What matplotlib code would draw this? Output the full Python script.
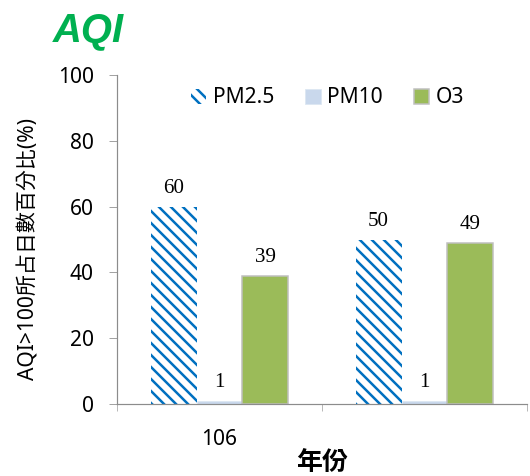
import numpy as np
import matplotlib.pyplot as plt

plt.rcParams['font.family'] = ['Noto Sans', 'Noto Sans CJK TC']
plt.rcParams['hatch.linewidth'] = 2.5

years = ['106', '']
series = ['PM2.5', 'PM10', 'O3']
pm25 = [60, 50]
pm10 = [1, 1]
o3 = [39, 49]

# 72 dpi so that font sizes are in pixels
fig = plt.figure(figsize=(530 / 72, 476 / 72), dpi=72)
ax = fig.add_axes([117 / 530, 1 - 404 / 476, 410 / 530, 329 / 476])

x = np.arange(len(years))
w = 0.224
b1 = ax.bar(x - w, pm25, w, color='white', edgecolor='#0070C0', linewidth=0,
            hatch='\\\\', label=series[0])
b2 = ax.bar(x, pm10, w, color='#C9D8EC', edgecolor='#DCE6F2', linewidth=0.8,
            label=series[1])
b3 = ax.bar(x + w, o3, w, color='#9BBB59', edgecolor='#BFBFBF', linewidth=1.5,
            label=series[2])

for bars, vals in [(b1, pm25), (b2, pm10), (b3, o3)]:
    for r, v in zip(bars, vals):
        ax.text(r.get_x() + r.get_width() / 2, v + 4.1, str(v), ha='center',
                va='baseline', family='Liberation Serif', fontsize=21)

ax.set_ylim(0, 100)
ax.set_yticks(range(0, 101, 20))
ax.set_xlim(-0.5, 1.5)
ax.set_xticks(x)
ax.set_xticklabels(years)
ax.set_xticks([-0.5, 0.5, 1.5], minor=True)
ax.tick_params(axis='x', which='major', length=0, pad=25, labelsize=21)
ax.tick_params(axis='x', which='minor', length=7, color='#8C8C8C')
ax.tick_params(axis='y', length=8, color='#8C8C8C', labelsize=21, pad=15)

for s in ['top', 'right']:
    ax.spines[s].set_visible(False)
for s in ['left', 'bottom']:
    ax.spines[s].set_color('#8C8C8C')
    ax.spines[s].set_linewidth(1.2)

ax.set_ylabel('AQI>100所占日數百分比(%)', fontsize=21, va='center')
ax.yaxis.set_label_coords(-0.215, 0.471)
ax.set_xlabel('年份', fontsize=26, fontweight='bold', va='center')
ax.xaxis.set_label_coords(0.5, -0.18)

fig.legend(handles=[b1, b2, b3], loc='center',
           bbox_to_anchor=(327.5 / 530, 1 - 98 / 476), ncol=3, frameon=False,
           fontsize=21, handlelength=0.72, handleheight=0.72,
           handletextpad=0.3, columnspacing=1.5, borderpad=0)

fig.text(53 / 530, 1 - 12 / 476, 'AQI', color='#00B050', fontsize=40,
         fontweight='bold', style='italic', va='top', family='Liberation Sans')

fig.savefig('out.png', dpi=72)
